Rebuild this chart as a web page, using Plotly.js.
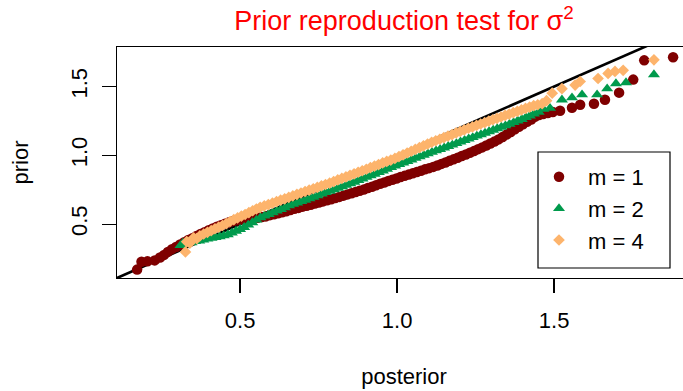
<!DOCTYPE html>
<html>
<head>
<meta charset="utf-8">
<script src="https://cdn.plot.ly/plotly-3.0.1.min.js"></script>
<style>
  html, body { margin: 0; padding: 0; overflow: hidden; background: #fff; }
  #chart { width: 700px; height: 391px; }
</style>
</head>
<body>
<div id="chart"></div>
<script>
// Q-Q comparison of posterior vs prior draws of sigma^2 for three values of m

// m = 1
const postM1 = [0.172,0.186,0.205,0.228,0.245,0.258,0.270,0.283,0.296,0.309,0.322,0.335,0.348,0.361,0.374,0.387,0.400,0.413,0.426,0.439,0.452,0.465,0.478,0.491,0.504,0.517,0.530,0.543,0.556,0.569,0.582,0.595,0.608,0.621,0.634,0.647,0.660,0.673,0.686,0.699,0.712,0.725,0.738,0.751,0.764,0.777,0.790,0.803,0.816,0.829,0.842,0.855,0.868,0.881,0.894,0.907,0.920,0.933,0.946,0.959,0.972,0.985,0.998,1.011,1.024,1.037,1.050,1.063,1.076,1.089,1.102,1.115,1.128,1.141,1.154,1.167,1.180,1.193,1.206,1.219,1.232,1.245,1.258,1.271,1.284,1.297,1.310,1.323,1.336,1.349,1.362,1.375,1.388,1.401,1.414,1.427,1.439,1.452,1.465,1.480,1.496,1.519,1.557,1.583,1.627,1.662,1.707,1.752,1.787,1.879];
const priorM1 = [0.169,0.226,0.229,0.236,0.257,0.276,0.298,0.318,0.333,0.352,0.368,0.384,0.398,0.413,0.428,0.441,0.456,0.468,0.481,0.492,0.503,0.514,0.522,0.528,0.534,0.538,0.541,0.544,0.546,0.551,0.556,0.565,0.572,0.579,0.586,0.594,0.602,0.612,0.618,0.627,0.633,0.641,0.649,0.657,0.665,0.674,0.681,0.690,0.698,0.707,0.716,0.724,0.733,0.742,0.751,0.762,0.772,0.783,0.793,0.803,0.813,0.823,0.832,0.842,0.851,0.860,0.869,0.879,0.888,0.898,0.907,0.916,0.926,0.938,0.948,0.960,0.971,0.983,0.995,1.006,1.019,1.031,1.045,1.058,1.072,1.086,1.100,1.116,1.133,1.152,1.170,1.189,1.208,1.226,1.244,1.261,1.280,1.293,1.301,1.308,1.315,1.324,1.346,1.368,1.375,1.404,1.456,1.551,1.691,1.713];

// m = 2
const postM2 = [0.310,0.318,0.326,0.334,0.345,0.357,0.370,0.383,0.396,0.409,0.422,0.435,0.448,0.461,0.474,0.487,0.500,0.513,0.526,0.539,0.552,0.565,0.578,0.591,0.604,0.617,0.630,0.643,0.656,0.669,0.682,0.695,0.708,0.721,0.734,0.747,0.760,0.773,0.786,0.799,0.812,0.825,0.838,0.851,0.864,0.877,0.890,0.903,0.916,0.929,0.942,0.955,0.968,0.981,0.994,1.007,1.020,1.033,1.046,1.059,1.072,1.085,1.098,1.111,1.124,1.137,1.150,1.163,1.176,1.189,1.202,1.215,1.228,1.241,1.254,1.267,1.280,1.293,1.306,1.319,1.332,1.345,1.358,1.371,1.384,1.397,1.410,1.423,1.436,1.451,1.466,1.487,1.525,1.557,1.589,1.637,1.669,1.697,1.729,1.818];
const priorM2 = [0.345,0.362,0.352,0.371,0.365,0.374,0.378,0.386,0.392,0.398,0.404,0.409,0.416,0.424,0.436,0.449,0.462,0.477,0.494,0.511,0.530,0.548,0.560,0.571,0.584,0.597,0.608,0.620,0.634,0.645,0.655,0.666,0.675,0.686,0.697,0.707,0.719,0.730,0.739,0.750,0.762,0.772,0.783,0.795,0.806,0.818,0.829,0.841,0.853,0.864,0.876,0.888,0.899,0.912,0.924,0.935,0.946,0.957,0.968,0.979,0.990,1.001,1.012,1.023,1.034,1.044,1.055,1.066,1.076,1.087,1.098,1.109,1.120,1.130,1.141,1.151,1.162,1.173,1.184,1.195,1.206,1.216,1.228,1.239,1.251,1.262,1.276,1.288,1.302,1.315,1.336,1.343,1.404,1.419,1.441,1.441,1.485,1.522,1.529,1.588];

// m = 4
const postM4 = [0.326,0.330,0.340,0.352,0.362,0.372,0.384,0.396,0.408,0.420,0.432,0.444,0.456,0.468,0.480,0.492,0.504,0.516,0.528,0.540,0.552,0.564,0.577,0.590,0.603,0.616,0.629,0.642,0.655,0.668,0.681,0.694,0.707,0.720,0.733,0.746,0.759,0.772,0.785,0.798,0.811,0.824,0.837,0.850,0.863,0.876,0.889,0.902,0.915,0.928,0.941,0.954,0.967,0.980,0.993,1.006,1.019,1.032,1.045,1.058,1.071,1.084,1.097,1.110,1.123,1.136,1.149,1.162,1.175,1.188,1.201,1.214,1.227,1.240,1.253,1.266,1.279,1.292,1.305,1.318,1.331,1.344,1.357,1.370,1.383,1.396,1.409,1.422,1.435,1.448,1.462,1.476,1.494,1.525,1.567,1.583,1.640,1.672,1.694,1.720,1.818];
const priorM4 = [0.298,0.372,0.362,0.400,0.395,0.414,0.428,0.440,0.452,0.466,0.478,0.490,0.504,0.519,0.532,0.545,0.558,0.570,0.583,0.597,0.610,0.622,0.632,0.642,0.652,0.663,0.674,0.684,0.694,0.705,0.716,0.726,0.737,0.747,0.757,0.767,0.778,0.788,0.798,0.809,0.821,0.832,0.843,0.855,0.866,0.877,0.888,0.899,0.911,0.922,0.933,0.945,0.956,0.966,0.978,0.991,1.004,1.017,1.030,1.043,1.056,1.069,1.082,1.095,1.106,1.117,1.129,1.140,1.151,1.163,1.174,1.186,1.197,1.207,1.218,1.228,1.238,1.249,1.259,1.269,1.279,1.290,1.300,1.310,1.320,1.330,1.341,1.351,1.361,1.368,1.376,1.398,1.452,1.485,1.511,1.537,1.559,1.596,1.610,1.618,1.695];

// identity reference line
const refX = [0, 2];
const refY = [0, 2];

const seriesNames = ['m = 1', 'm = 2', 'm = 4'];
const seriesColors = ['#7f0000', '#009a4c', '#fdb46c'];
const xTicks = [0.5, 1.0, 1.5];
const xTickText = ['0.5', '1.0', '1.5'];
const yTicks = [0.5, 1.0, 1.5];
const yTickText = ['0.5', '1.0', '1.5'];

const FONT = '"Liberation Sans", Arial, Helvetica, sans-serif';

const traces = [
  { x: refX, y: refY, mode: 'lines', line: { color: '#000', width: 2.6 },
    showlegend: false, hoverinfo: 'skip' },
  { x: postM1, y: priorM1, mode: 'markers', name: seriesNames[0],
    marker: { symbol: 'circle', size: 10.5, color: seriesColors[0] } },
  { x: postM2, y: priorM2, mode: 'markers', name: seriesNames[1],
    marker: { symbol: 'triangle-up', size: 10.5, color: seriesColors[1] } },
  { x: postM4, y: priorM4, mode: 'markers', name: seriesNames[2],
    marker: { symbol: 'diamond', size: 9, color: seriesColors[2] } }
];

// plot area: 574 x 231 px starting at (117, 47)
const px2paperX = px => (px - 117) / 574;
const px2paperY = py => (278 - py) / 231;

const layout = {
  width: 700, height: 391,
  margin: { l: 117, r: 9, t: 47, b: 113 },
  paper_bgcolor: '#fff', plot_bgcolor: '#fff',
  font: { family: FONT, size: 22, color: '#000' },
  title: {
    text: 'Prior reproduction test for σ<sup>2</sup>',
    font: { family: FONT, size: 27, color: '#ff0000' },
    x: 0.5, xref: 'paper', xanchor: 'center',
    y: 1 - 21 / 391, yref: 'container', yanchor: 'middle'
  },
  xaxis: {
    range: [0.108, 0.108 + 574 / 314],
    tickvals: xTicks, ticktext: xTickText,
    ticks: 'outside', ticklen: 14, tickwidth: 1.2, tickcolor: '#000',
    ticklabelstandoff: 8,
    showline: true, mirror: true, linecolor: '#000', linewidth: 1.2,
    showgrid: false, zeroline: false,
    tickfont: { family: FONT, size: 22, color: '#000' },
    title: { text: 'posterior', font: { family: FONT, size: 22, color: '#000' }, standoff: 37 }
  },
  yaxis: {
    range: [0.108, 0.108 + 231 / 137.5],
    tickvals: yTicks, ticktext: yTickText, tickangle: -90,
    ticks: 'outside', ticklen: 14, tickwidth: 1.2, tickcolor: '#000',
    ticklabelstandoff: 6,
    showline: true, mirror: true, linecolor: '#000', linewidth: 1.2,
    showgrid: false, zeroline: false,
    tickfont: { family: FONT, size: 22, color: '#000' },
    title: { text: 'prior', font: { family: FONT, size: 22, color: '#000' }, standoff: 32 }
  },
  shapes: [{
    type: 'rect', xref: 'paper', yref: 'paper', layer: 'above',
    x0: px2paperX(538), x1: px2paperX(670),
    y0: px2paperY(268), y1: px2paperY(152),
    line: { color: '#000', width: 1.2 }, fillcolor: 'rgba(255,255,255,1)'
  }],
  legend: {
    x: px2paperX(530), y: px2paperY(156), xanchor: 'left', yanchor: 'top',
    bgcolor: 'rgba(0,0,0,0)', borderwidth: 0,
    font: { family: FONT, size: 22, color: '#000' },
    itemwidth: 48, itemsizing: 'trace'
  },
  showlegend: true
};

Plotly.newPlot('chart', traces, layout, { staticPlot: true, displayModeBar: false });
</script>
</body>
</html>
